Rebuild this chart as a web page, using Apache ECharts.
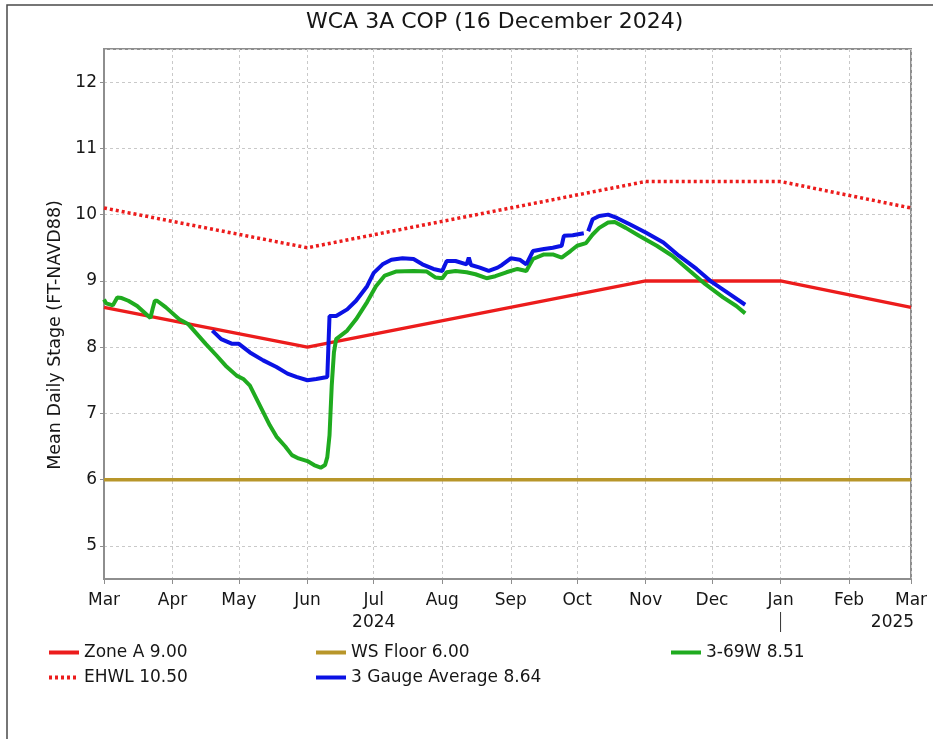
<!DOCTYPE html>
<html>
<head>
<meta charset="utf-8">
<title>WCA 3A COP</title>
<script src="https://cdn.jsdelivr.net/npm/echarts@6/dist/echarts.min.js"></script>
<style>
  html, body { margin: 0; padding: 0; background: #ffffff; }
  #chart { width: 933px; height: 739px; }
</style>
</head>
<body>
<div id="chart"></div>
<script>
// Regulation schedule break points
const scheduleDates = ['2024-03-01', '2024-06-01', '2024-11-01', '2025-01-01', '2025-03-01'];
const zoneAStage = [8.6, 8.0, 9.0, 9.0, 8.6];
const ehwlStage = [10.1, 9.5, 10.5, 10.5, 10.1];

// Water-supply floor
const floorDates = ['2024-03-01', '2025-03-01'];
const floorStage = [6.0, 6.0];

// Gauge 3-69W mean daily stage
const g369wDates = [
  '2024-03-01', '2024-03-02', '2024-03-05', '2024-03-07', '2024-03-09', '2024-03-12',
  '2024-03-16', '2024-03-19', '2024-03-22', '2024-03-23', '2024-03-24', '2024-03-25',
  '2024-03-29', '2024-04-04', '2024-04-08', '2024-04-12', '2024-04-16', '2024-04-21',
  '2024-04-25', '2024-04-30', '2024-05-03', '2024-05-06', '2024-05-09', '2024-05-12',
  '2024-05-15', '2024-05-18', '2024-05-22', '2024-05-25', '2024-05-28', '2024-06-01',
  '2024-06-04', '2024-06-07', '2024-06-09', '2024-06-10', '2024-06-11', '2024-06-12',
  '2024-06-13', '2024-06-14', '2024-06-19', '2024-06-23', '2024-06-28', '2024-07-02',
  '2024-07-06', '2024-07-11', '2024-07-19', '2024-07-25', '2024-07-29', '2024-08-01',
  '2024-08-03', '2024-08-07', '2024-08-12', '2024-08-16', '2024-08-21', '2024-08-25',
  '2024-08-30', '2024-09-04', '2024-09-08', '2024-09-11', '2024-09-16', '2024-09-20',
  '2024-09-24', '2024-09-28', '2024-10-01', '2024-10-05', '2024-10-08', '2024-10-11',
  '2024-10-15', '2024-10-18', '2024-10-23', '2024-10-29', '2024-11-06', '2024-11-13',
  '2024-11-21', '2024-11-28', '2024-12-06', '2024-12-12', '2024-12-16'
];
const g369wStage = [
  8.72, 8.66, 8.63, 8.75, 8.74, 8.70,
  8.62, 8.53, 8.44, 8.58, 8.70, 8.70,
  8.60, 8.42, 8.35, 8.20, 8.05, 7.87,
  7.72, 7.57, 7.52, 7.42, 7.22, 7.02,
  6.82, 6.65, 6.50, 6.37, 6.32, 6.28,
  6.22, 6.18, 6.22, 6.34, 6.67, 7.42,
  7.92, 8.12, 8.25, 8.42, 8.68, 8.92,
  9.08, 9.14, 9.15, 9.14, 9.05, 9.04,
  9.13, 9.15, 9.13, 9.10, 9.04, 9.07,
  9.13, 9.18, 9.15, 9.33, 9.40, 9.40,
  9.35, 9.45, 9.53, 9.57, 9.70, 9.80,
  9.88, 9.89, 9.80, 9.68, 9.53, 9.38,
  9.15, 8.95, 8.75, 8.62, 8.51
];

// Three-gauge average mean daily stage (null = missing day)
const avgDates = [
  '2024-04-19', '2024-04-23', '2024-04-28', '2024-05-01', '2024-05-06', '2024-05-12',
  '2024-05-18', '2024-05-23', '2024-05-27', '2024-06-01', '2024-06-05', '2024-06-10',
  '2024-06-11', '2024-06-14', '2024-06-19', '2024-06-23', '2024-06-28', '2024-07-01',
  '2024-07-05', '2024-07-09', '2024-07-14', '2024-07-19', '2024-07-23', '2024-07-28',
  '2024-08-01', '2024-08-03', '2024-08-07', '2024-08-12', '2024-08-13', '2024-08-14',
  '2024-08-18', '2024-08-22', '2024-08-26', '2024-08-28', '2024-09-01', '2024-09-05',
  '2024-09-08', '2024-09-11', '2024-09-16', '2024-09-20', '2024-09-24', '2024-09-25',
  '2024-09-29', '2024-10-04', '2024-10-05', '2024-10-06', '2024-10-08', '2024-10-11',
  '2024-10-15', '2024-10-19', '2024-10-25', '2024-11-01', '2024-11-09', '2024-11-16',
  '2024-11-24', '2024-12-01', '2024-12-09', '2024-12-16'
];
const avgStage = [
  8.25, 8.12, 8.05, 8.05, 7.92, 7.80,
  7.70, 7.60, 7.55, 7.50, 7.52, 7.55,
  8.47, 8.47, 8.57, 8.70, 8.92, 9.12,
  9.25, 9.32, 9.34, 9.33, 9.25, 9.18,
  9.15, 9.30, 9.30, 9.25, 9.35, 9.24,
  9.20, 9.15, 9.20, 9.24, 9.34, 9.32,
  9.25, 9.45, 9.48, 9.50, 9.53, 9.68,
  9.69, 9.72, null, 9.75, 9.93, 9.98,
  10.00, 9.95, 9.85, 9.73, 9.58, 9.38,
  9.18, 8.98, 8.80, 8.64
];

// Axis tick labels
const monthNames = ['Jan', 'Feb', 'Mar', 'Apr', 'May', 'Jun', 'Jul', 'Aug', 'Sep', 'Oct', 'Nov', 'Dec'];
const yearLabels = { '2024-6': '2024', '2025-2': '2025' };

const toTime = (s) => {
  const p = s.split('-').map(Number);
  return new Date(p[0], p[1] - 1, p[2]).getTime();
};
const pairs = (dates, values) => dates.map((d, i) => [toTime(d), values[i]]);

const FONT = 'DejaVu Sans';
const TEXT = '#161616';
const AXIS = '#8e8e8e';
const GRIDLINE = '#c9c9c9';

const legendBase = {
  top: 639, orient: 'vertical', itemGap: 8, itemWidth: 30, itemHeight: 14,
  itemStyle: { opacity: 0 },
  lineStyle: { width: 4 },
  textStyle: { fontFamily: FONT, fontSize: 17, color: TEXT, lineHeight: 17 }
};

const chart = echarts.init(document.getElementById('chart'), null, { renderer: 'canvas' });

chart.setOption({
  backgroundColor: '#ffffff',
  animation: false,
  textStyle: { fontFamily: FONT },
  title: {
    text: 'WCA 3A COP (16 December 2024)',
    left: 301,
    top: 6,
    textStyle: { fontFamily: FONT, fontSize: 22, fontWeight: 'normal', color: TEXT }
  },
  graphic: [{
    type: 'rect',
    silent: true,
    shape: { x: 7, y: 5, width: 960, height: 760 },
    style: { fill: null, stroke: '#4a4a4a', lineWidth: 1.5 }
  }],
  grid: {
    left: 104, right: 22, top: 49, height: 530,
    outerBoundsMode: 'none',
    containLabel: false,
    show: true, borderColor: AXIS, borderWidth: 2, backgroundColor: 'transparent'
  },
  legend: [
    Object.assign({ left: 42, data: ['Zone A 9.00', 'EHWL 10.50'] }, legendBase),
    Object.assign({ left: 309, data: ['WS Floor 6.00', '3 Gauge Average 8.64'] }, legendBase),
    Object.assign({ left: 664, data: ['3-69W 8.51'] }, legendBase)
  ],
  xAxis: {
    type: 'time',
    min: toTime('2024-03-01'),
    max: toTime('2025-03-01'),
    splitNumber: 12,
    axisLine: { show: true, lineStyle: { color: AXIS, width: 2 } },
    axisTick: { show: true, length: 5, lineStyle: { color: AXIS, width: 1 } },
    splitLine: { show: true, lineStyle: { color: GRIDLINE, type: [3, 3], width: 1 } },
    axisLabel: {
      margin: 11,
      color: TEXT,
      fontFamily: FONT,
      fontSize: 17,
      showMinLabel: true,
      showMaxLabel: true,
      hideOverlap: false,
      formatter: (value) => {
        const d = new Date(value);
        const key = d.getFullYear() + '-' + d.getMonth();
        const m = monthNames[d.getMonth()];
        if (key === '2024-6') return '{m|' + m + '}\n{yr|' + yearLabels[key] + '}';
        if (key === '2025-2') return '{m|' + m + '}\n{yrEnd|' + yearLabels[key] + '}';
        if (key === '2025-0') return '{m|' + m + '}\n{sep| }';
        return '{m|' + m + '}';
      },
      rich: {
        m: { fontFamily: FONT, fontSize: 17, color: TEXT, lineHeight: 22 },
        yr: { fontFamily: FONT, fontSize: 17, color: TEXT, lineHeight: 22 },
        yrEnd: { fontFamily: FONT, fontSize: 17, color: TEXT, lineHeight: 22, padding: [0, 37, 0, 0] },
        sep: { width: 1, height: 20, backgroundColor: '#333333', fontSize: 1 }
      }
    }
  },
  yAxis: {
    type: 'value',
    min: 4.5,
    max: 12.5,
    splitNumber: 8,
    name: 'Mean Daily Stage (FT-NAVD88)',
    nameLocation: 'middle',
    nameGap: 25,
    nameRotate: 90,
    nameTextStyle: { fontFamily: FONT, fontSize: 17.5, color: TEXT, padding: [0, 42, 0, 0] },
    axisLine: { show: true, lineStyle: { color: AXIS, width: 2 } },
    axisTick: { show: true, length: 4, lineStyle: { color: AXIS, width: 1 } },
    splitLine: { show: true, lineStyle: { color: GRIDLINE, type: [3, 3], width: 1 } },
    axisLabel: {
      margin: 7, color: TEXT, fontFamily: FONT, fontSize: 17,
      showMinLabel: false, showMaxLabel: false
    }
  },
  series: [
    {
      name: 'WS Floor 6.00', type: 'line', symbol: 'none', z: 2,
      data: pairs(floorDates, floorStage),
      lineStyle: { color: '#b8962a', width: 3.5 }, itemStyle: { color: '#b8962a' }
    },
    {
      name: 'Zone A 9.00', type: 'line', symbol: 'none', z: 3,
      data: pairs(scheduleDates, zoneAStage),
      lineStyle: { color: '#ec1c1c', width: 3.5 }, itemStyle: { color: '#ec1c1c' }
    },
    {
      name: 'EHWL 10.50', type: 'line', symbol: 'none', z: 3,
      data: pairs(scheduleDates, ehwlStage),
      lineStyle: { color: '#ec1c1c', width: 3.5, type: [3, 3] }, itemStyle: { color: '#ec1c1c' }
    },
    {
      name: '3-69W 8.51', type: 'line', symbol: 'none', z: 4,
      data: pairs(g369wDates, g369wStage),
      lineStyle: { color: '#1fab1f', width: 4 }, itemStyle: { color: '#1fab1f' }
    },
    {
      name: '3 Gauge Average 8.64', type: 'line', symbol: 'none', z: 5,
      connectNulls: false,
      data: pairs(avgDates, avgStage),
      lineStyle: { color: '#0b12e4', width: 4 }, itemStyle: { color: '#0b12e4' }
    }
  ]
});
</script>
</body>
</html>
